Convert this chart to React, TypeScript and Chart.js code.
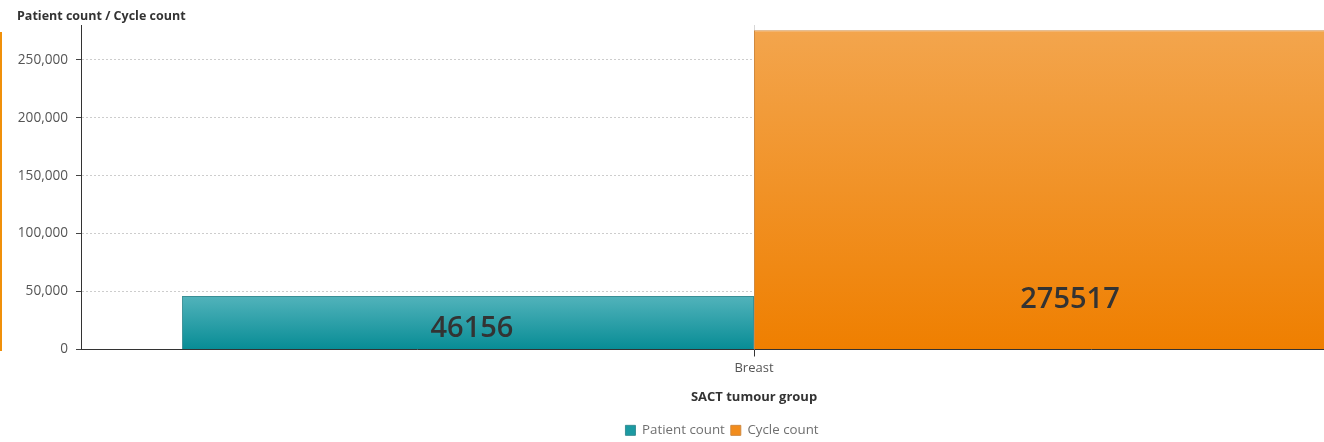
import React, { useEffect, useRef } from "react";
import { Chart, registerables } from "chart.js";

Chart.register(...registerables);

const categories = ["Breast"];
const seriesNames = ["Patient count", "Cycle count"];
const patientCount = [46156];
const cycleCount = [275517];
const yTicks = [0, 50000, 100000, 150000, 200000, 250000];
const yMax = 280000;

const gradTop = ["#52b3bb", "#f3a54d"];
const gradBottom = ["#078c95", "#ef7f00"];
const borderColors = ["#3a8f95", "#d08a40"];
const legendColors = ["#1b9aa2", "#f28c1c"];

const FONT = '"Open Sans", "Noto Sans", sans-serif';

const valueLabelPlugin = {
  id: "valueLabels",
  afterDraw(chart: any, _args: any, opts: any) {
    const ctx = chart.ctx;
    ctx.save();
    ctx.font = `600 29px ${FONT}`;
    ctx.fillStyle = "#333333";
    ctx.textAlign = "center";
    ctx.textBaseline = "middle";
    chart.data.datasets.forEach((ds: any, di: number) => {
      const meta = chart.getDatasetMeta(di);
      const off = (opts.offsets && opts.offsets[di]) || { dx: 0, dy: 20 };
      meta.data.forEach((el: any, i: number) => {
        const p = el.getProps(["x", "y", "base"], true);
        ctx.fillText(String(ds.data[i]), p.x + off.dx, p.base - off.dy);
      });
    });
    ctx.restore();
  },
};

function makeGradient(idx: number) {
  return (c: any) => {
    const chart = c.chart;
    if (!chart.chartArea || c.type !== "data") return legendColors[idx];
    const y = chart.scales.y;
    const top = y.getPixelForValue(c.parsed.y);
    const bottom = y.getPixelForValue(0);
    const g = chart.ctx.createLinearGradient(0, top, 0, bottom);
    g.addColorStop(0, gradTop[idx]);
    g.addColorStop(1, gradBottom[idx]);
    return g;
  };
}

export default function App() {
  const ref = useRef<HTMLCanvasElement>(null);

  useEffect(() => {
    if (!ref.current) return;
    Chart.defaults.font.family = FONT;
    const chart = new Chart(ref.current, {
      type: "bar",
      data: {
        labels: categories,
        datasets: [
          {
            label: seriesNames[0],
            data: patientCount,
            backgroundColor: makeGradient(0),
            borderColor: borderColors[0],
            borderWidth: 1,
          },
          {
            label: seriesNames[1],
            data: cycleCount,
            backgroundColor: makeGradient(1),
            borderColor: borderColors[1],
            borderWidth: 1,
          },
        ],
      },
      plugins: [valueLabelPlugin],
      options: {
        responsive: false,
        animation: false,
        datasets: {
          bar: { categoryPercentage: 0.85, barPercentage: 1 },
        },
        layout: { padding: { left: 17, right: 15, top: 0, bottom: 0 } },
        plugins: {
          valueLabels: {
            offsets: [
              { dx: 4, dy: 20 },
              { dx: 30, dy: 49 },
            ],
          },
          title: {
            display: true,
            text: "Patient count / Cycle count",
            align: "start",
            color: "#333333",
            font: { size: 12.5, weight: "bold", family: FONT },
            padding: { top: 9, bottom: 1 },
          },
          legend: {
            position: "bottom",
            labels: {
              boxWidth: 10,
              boxHeight: 10,
              padding: 6,
              color: "#707070",
              font: { size: 13.3, family: FONT },
              generateLabels: (ch: any) =>
                ch.data.datasets.map((ds: any, i: number) => ({
                  text: ds.label,
                  fillStyle: legendColors[i],
                  strokeStyle: borderColors[i],
                  lineWidth: 1,
                  hidden: !ch.isDatasetVisible(i),
                  datasetIndex: i,
                  fontColor: "#707070",
                })),
            },
          },
          tooltip: { enabled: false },
        },
        scales: {
          x: {
            grid: {
              offset: false,
              color: "#d6d6d6",
              tickColor: "#333333",
              tickLength: 7,
              drawOnChartArea: true,
            },
            border: { color: "#333333", width: 1 },
            ticks: {
              color: "#555555",
              font: { size: 13, family: FONT },
              padding: 4,
            },
            title: {
              display: true,
              text: "SACT tumour group",
              color: "#333333",
              font: { size: 13, weight: "bold", family: FONT },
              padding: { top: 9, bottom: 13 },
            },
          },
          y: {
            min: 0,
            max: yMax,
            z: 1,
            afterFit: (s: any) => {
              s.width = 64;
            },
            afterBuildTicks: (s: any) => {
              s.ticks = yTicks.map((v) => ({ value: v }));
            },
            grid: {
              color: (c: any) => (c.tick && c.tick.value === 0 ? "rgba(0,0,0,0)" : "#cdcdcd"),
              tickColor: "#444444",
              tickLength: 5,
              lineWidth: 1,
            },
            border: { color: "#333333", width: 1, dash: [2, 2] },
            ticks: {
              color: "#555555",
              font: { size: 13.6, family: FONT },
              padding: 8,
              callback: (v: any) => Number(v).toLocaleString("en-US"),
            },
          },
        },
      },
    } as any);
    return () => chart.destroy();
  }, []);

  return (
    <div
      style={{
        position: "fixed",
        left: 0,
        top: 0,
        width: 1324,
        height: 442,
        overflow: "hidden",
        background: "#ffffff",
      }}
    >
      <canvas ref={ref} width={1442} height={447} style={{ display: "block" }} />
      <div
        style={{
          position: "absolute",
          left: 0,
          top: 32,
          width: 2,
          height: 319,
          background: "#f0900a",
        }}
      />
    </div>
  );
}
